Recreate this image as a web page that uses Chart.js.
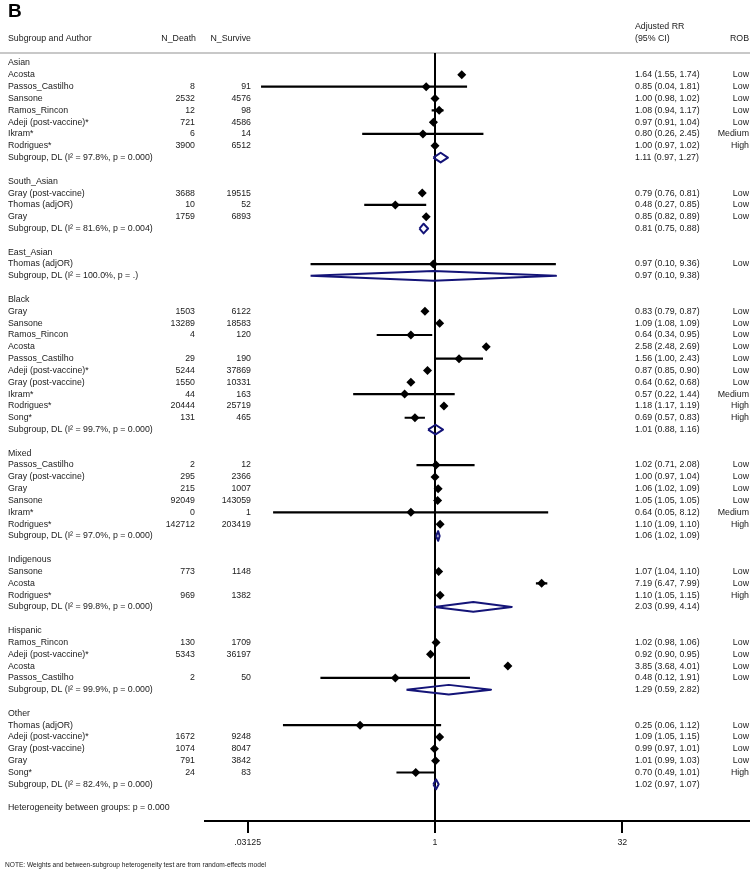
<!DOCTYPE html>
<html><head><meta charset="utf-8">
<script src="https://cdn.jsdelivr.net/npm/chart.js@4/dist/chart.umd.min.js"></script>
<style>html,body{margin:0;padding:0;background:#fff;}#c{display:block;}</style>
</head><body>
<canvas id="c" width="750" height="871"></canvas>
<script>
// ---------- DATA ----------
const groupNames = ['Asian','South_Asian','East_Asian','Black','Mixed','Indigenous','Hispanic','Other'];
const studyGroup = [0,0,0,0,0,0,0, 1,1,1, 2, 3,3,3,3,3,3,3,3,3,3, 4,4,4,4,4,4, 5,5,5, 6,6,6,6, 7,7,7,7,7];
const studyAuthor = [
 'Acosta','Passos_Castilho','Sansone','Ramos_Rincon','Adeji (post-vaccine)*','Ikram*','Rodrigues*',
 'Gray (post-vaccine)','Thomas (adjOR)','Gray',
 'Thomas (adjOR)',
 'Gray','Sansone','Ramos_Rincon','Acosta','Passos_Castilho','Adeji (post-vaccine)*','Gray (post-vaccine)','Ikram*','Rodrigues*','Song*',
 'Passos_Castilho','Gray (post-vaccine)','Gray','Sansone','Ikram*','Rodrigues*',
 'Sansone','Acosta','Rodrigues*',
 'Ramos_Rincon','Adeji (post-vaccine)*','Acosta','Passos_Castilho',
 'Thomas (adjOR)','Adeji (post-vaccine)*','Gray (post-vaccine)','Gray','Song*'
];
const nDeath = [
 null,8,2532,12,721,6,3900,
 3688,10,1759,
 null,
 1503,13289,4,null,29,5244,1550,44,20444,131,
 2,295,215,92049,0,142712,
 773,null,969,
 130,5343,null,2,
 null,1672,1074,791,24
];
const nSurvive = [
 null,91,4576,98,4586,14,6512,
 19515,52,6893,
 null,
 6122,18583,120,null,190,37869,10331,163,25719,465,
 12,2366,1007,143059,1,203419,
 1148,null,1382,
 1709,36197,null,50,
 null,9248,8047,3842,83
];
const studyRR = [
 1.64,0.85,1.00,1.08,0.97,0.80,1.00,
 0.79,0.48,0.85,
 0.97,
 0.83,1.09,0.64,2.58,1.56,0.87,0.64,0.57,1.18,0.69,
 1.02,1.00,1.06,1.05,0.64,1.10,
 1.07,7.19,1.10,
 1.02,0.92,3.85,0.48,
 0.25,1.09,0.99,1.01,0.70
];
const studyLo = [
 1.55,0.04,0.98,0.94,0.91,0.26,0.97,
 0.76,0.27,0.82,
 0.10,
 0.79,1.08,0.34,2.48,1.00,0.85,0.62,0.22,1.17,0.57,
 0.71,0.97,1.02,1.05,0.05,1.09,
 1.04,6.47,1.05,
 0.98,0.90,3.68,0.12,
 0.06,1.05,0.97,0.99,0.49
];
const studyHi = [
 1.74,1.81,1.02,1.17,1.04,2.45,1.02,
 0.81,0.85,0.89,
 9.36,
 0.87,1.09,0.95,2.69,2.43,0.90,0.68,1.44,1.19,0.83,
 2.08,1.04,1.09,1.05,8.12,1.10,
 1.10,7.99,1.15,
 1.06,0.95,4.01,1.91,
 1.12,1.15,1.01,1.03,1.01
];
const studyROB = [
 'Low','Low','Low','Low','Low','Medium','High',
 'Low','Low','Low',
 'Low',
 'Low','Low','Low','Low','Low','Low','Low','Medium','High','High',
 'Low','Low','Low','Low','Medium','High',
 'Low','Low','High',
 'Low','Low','Low','Low',
 'Low','Low','Low','Low','High'
];
const subI2 = ['97.8%','81.6%','100.0%','99.7%','97.0%','99.8%','99.9%','82.4%'];
const subP  = ['0.000','0.004','.','0.000','0.000','0.000','0.000','0.000'];
const subRR = [1.11,0.81,0.97,1.01,1.06,2.03,1.29,1.02];
const subLo = [0.97,0.75,0.10,0.88,1.02,0.99,0.59,0.97];
const subHi = [1.27,0.88,9.38,1.16,1.09,4.14,2.82,1.07];
const hetBetweenP = '0.000';
const xTickValues = [0.03125, 1, 32];
const xTickLabels = ['.03125', '1', '32'];

// ---------- BUILD ROWS ----------
const rows = [];
let r = 1;
groupNames.forEach((g, gi) => {
  rows.push({type:'head', row:r++, label:g});
  studyGroup.forEach((sg, i) => {
    if (sg !== gi) return;
    rows.push({type:'study', row:r++, i});
  });
  rows.push({type:'sub', row:r++, gi});
  r++; // blank
});
rows.push({type:'het', row:r++});

const f2 = v => v.toFixed(2);
const studyPts = [], whiskers = [], diamonds = [];
const DH = 0.41;
rows.forEach(o => {
  if (o.type === 'study') {
    const i = o.i;
    studyPts.push({x: studyRR[i], y: o.row});
    whiskers.push({x: studyLo[i], y: o.row}, {x: studyHi[i], y: o.row}, {x: null, y: null});
  } else if (o.type === 'sub') {
    const g = o.gi;
    diamonds.push({x: subLo[g], y: o.row}, {x: subRR[g], y: o.row - DH}, {x: subHi[g], y: o.row},
                  {x: subRR[g], y: o.row + DH}, {x: subLo[g], y: o.row}, {x: null, y: null});
  }
});

// ---------- STYLE ----------
const FONT = '"Liberation Sans", Arial, Helvetica, sans-serif';
const TXT = '#1a1a1a';
const NAVY = '#141478';
const FS = 8.8;

const refLine = {
  id: 'refLine',
  beforeDatasetsDraw(chart) {
    const {ctx, chartArea, scales} = chart;
    const x = scales.x.getPixelForValue(1);
    ctx.save();
    ctx.strokeStyle = '#000'; ctx.lineWidth = 2;
    ctx.beginPath(); ctx.moveTo(x, chartArea.top); ctx.lineTo(x, chartArea.bottom); ctx.stroke();
    ctx.restore();
  }
};

const textPlugin = {
  id: 'forestText',
  beforeDraw(chart) {
    const ctx = chart.ctx;
    ctx.save();
    ctx.fillStyle = '#fff'; ctx.fillRect(0, 0, chart.width, chart.height);
    ctx.strokeStyle = '#c8c8c8'; ctx.lineWidth = 2;
    ctx.beginPath(); ctx.moveTo(0, chart.chartArea.top); ctx.lineTo(chart.width, chart.chartArea.top); ctx.stroke();
    ctx.restore();
  },
  afterDraw(chart) {
    const ctx = chart.ctx, ys = chart.scales.y;
    ctx.save();
    ctx.fillStyle = '#000';
    ctx.font = `bold 19px ${FONT}`; ctx.textAlign = 'left'; ctx.textBaseline = 'alphabetic';
    ctx.fillText('B', 8, 17);
    ctx.fillStyle = TXT;
    ctx.font = `${FS}px ${FONT}`; ctx.textBaseline = 'middle';
    ctx.textAlign = 'left';
    ctx.fillText('Subgroup and Author', 8, 39);
    ctx.fillText('Adjusted RR', 635, 27);
    ctx.fillText('(95% CI)', 635, 39);
    ctx.textAlign = 'right';
    ctx.fillText('N_Death', 196, 39);
    ctx.fillText('N_Survive', 251, 39);
    ctx.fillText('ROB', 749, 39);
    rows.forEach(o => {
      const y = ys.getPixelForValue(o.row);
      ctx.textAlign = 'left';
      if (o.type === 'head') ctx.fillText(o.label, 8, y);
      else if (o.type === 'study') {
        const i = o.i;
        ctx.fillText(studyAuthor[i], 8, y);
        ctx.fillText(`${f2(studyRR[i])} (${f2(studyLo[i])}, ${f2(studyHi[i])})`, 635, y);
        ctx.textAlign = 'right';
        if (nDeath[i] !== null) ctx.fillText(String(nDeath[i]), 195, y);
        if (nSurvive[i] !== null) ctx.fillText(String(nSurvive[i]), 251, y);
        ctx.fillText(studyROB[i], 749, y);
      } else if (o.type === 'sub') {
        const g = o.gi;
        ctx.fillText(`Subgroup, DL (I\u00B2 = ${subI2[g]}, p = ${subP[g]})`, 8, y);
        ctx.fillText(`${f2(subRR[g])} (${f2(subLo[g])}, ${f2(subHi[g])})`, 635, y);
      } else if (o.type === 'het') {
        ctx.fillText(`Heterogeneity between groups: p = ${hetBetweenP}`, 8, y);
      }
    });
    ctx.textAlign = 'left';
    ctx.font = `6.6px ${FONT}`;
    ctx.fillText('NOTE: Weights and between-subgroup heterogeneity test are from random-effects model', 5, 865);
    ctx.restore();
  }
};

// x scale: 1 at px 435, 37.46 px per doubling, plot area 205..750
const PXD = 37.46;
const xMin = Math.pow(2, (205 - 435) / PXD);
const xMax = Math.pow(2, (750 - 435) / PXD);
const ROWPX = 11.825;
const yMin = 1 - 10 / ROWPX;
const yMax = yMin + 768 / ROWPX;

new Chart(document.getElementById('c'), {
  type: 'scatter',
  data: {
    datasets: [
      {label: 'studies', data: studyPts, pointStyle: 'rectRot', pointRadius: 4.5, pointHoverRadius: 4.5,
       backgroundColor: '#000', borderWidth: 0, clip: false},
      {label: 'ci', data: whiskers, showLine: true, spanGaps: false, pointRadius: 0, borderColor: '#000',
       borderWidth: 2.2, fill: false, clip: false},
      {label: 'subgroups', data: diamonds, showLine: true, spanGaps: false, pointRadius: 0, borderColor: NAVY,
       borderWidth: 2, borderJoinStyle: 'round', fill: false, clip: false}
    ]
  },
  options: {
    responsive: false, animation: false, devicePixelRatio: 1,
    layout: {autoPadding: false, padding: {left: 205, right: 0, top: 53, bottom: 22}},
    plugins: {legend: {display: false}, tooltip: {enabled: false}},
    events: [],
    scales: {
      x: {
        type: 'logarithmic', min: xMin, max: xMax, bounds: 'data',
        afterBuildTicks: s => { s.ticks = xTickValues.map(v => ({value: v})); },
        afterFit: s => { s.height = 28; s.paddingLeft = 0; s.paddingRight = 0; },
        ticks: {callback: (v) => xTickLabels[xTickValues.indexOf(v)] ?? '', autoSkip: false, maxRotation: 0,
                padding: 4, color: TXT, font: {family: FONT, size: FS}},
        grid: {display: true, drawOnChartArea: false, drawTicks: true, tickLength: 12, tickWidth: 2,
               tickColor: '#000', color: '#000', lineWidth: 2},
        border: {display: true, color: '#000', width: 2}
      },
      y: {type: 'linear', reverse: true, min: yMin, max: yMax, bounds: 'data', display: false}
    }
  },
  plugins: [refLine, textPlugin]
});
</script></body></html>
